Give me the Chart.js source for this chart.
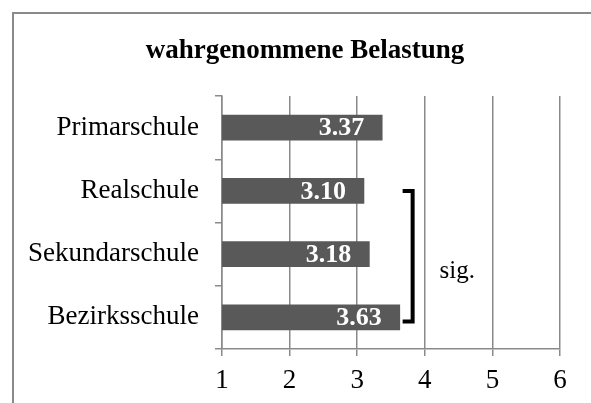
<!DOCTYPE html>
<html>
<head>
<meta charset="utf-8">
<script src="https://cdn.jsdelivr.net/npm/chart.js"></script>
<style>
  html, body { margin: 0; padding: 0; background: #fff; overflow: hidden; }
  #wrap { width: 591px; height: 403px; position: relative; }
</style>
</head>
<body>
<div id="wrap"><canvas id="chart" width="591" height="403"></canvas></div>
<script>
// chart data
const schools = ['Primarschule', 'Realschule', 'Sekundarschule', 'Bezirksschule'];
const belastung = [3.37, 3.10, 3.18, 3.63];
const xTicks = [1, 2, 3, 4, 5, 6];
const chartTitle = 'wahrgenommene Belastung';

// significance bracket between Realschule and Bezirksschule
const sigFrom = 'Realschule';
const sigTo = 'Bezirksschule';
const sigX = 3.82;
const sigLabel = 'sig.';
const sigLabelPos = [4.48, 2.28];

const FONT = "'Liberation Serif', 'Times New Roman', serif";
const GRID = '#8a8a8a';

// outer frame (top and left edge of the chart box) and the title,
// which sits centred on the whole (wider, cropped) chart box
const framePlugin = {
    id: 'frame',
    beforeDraw(chart) {
        const ctx = chart.ctx;
        ctx.save();
        ctx.strokeStyle = '#8a8a8a';
        ctx.lineWidth = 2;
        ctx.beginPath();
        ctx.moveTo(13, chart.height);
        ctx.lineTo(13, 13);
        ctx.lineTo(chart.width, 13);
        ctx.stroke();

        ctx.fillStyle = '#000';
        ctx.font = 'bold 27px ' + FONT;
        ctx.textAlign = 'center';
        ctx.textBaseline = 'alphabetic';
        ctx.fillText(chartTitle, 305, 58);
        ctx.restore();
    }
};

// white value labels at the inside end of each bar
const valueLabels = {
    id: 'valueLabels',
    afterDatasetsDraw(chart) {
        const ctx = chart.ctx;
        const meta = chart.getDatasetMeta(0);
        ctx.save();
        ctx.fillStyle = '#ffffff';
        ctx.font = 'bold 26px ' + FONT;
        ctx.textAlign = 'right';
        ctx.textBaseline = 'middle';
        meta.data.forEach((bar, i) => {
            ctx.fillText(belastung[i].toFixed(2), bar.x - 18, bar.y + 1);
        });
        ctx.restore();
    }
};

// bracket + "sig." text
const sigBracket = {
    id: 'sigBracket',
    afterDraw(chart) {
        const ctx = chart.ctx;
        const xs = chart.scales.x, ys = chart.scales.y;
        const x = xs.getPixelForValue(sigX);
        const y1 = ys.getPixelForValue(schools.indexOf(sigFrom));
        const y2 = ys.getPixelForValue(schools.indexOf(sigTo)) + 4;
        ctx.save();
        ctx.strokeStyle = '#000';
        ctx.lineWidth = 4;
        ctx.lineJoin = 'miter';
        ctx.beginPath();
        ctx.moveTo(x - 10, y1);
        ctx.lineTo(x, y1);
        ctx.lineTo(x, y2);
        ctx.lineTo(x - 10, y2);
        ctx.stroke();
        ctx.fillStyle = '#000';
        ctx.font = '25px ' + FONT;
        ctx.textAlign = 'center';
        ctx.textBaseline = 'middle';
        ctx.fillText(sigLabel, xs.getPixelForValue(sigLabelPos[0]), ys.getPixelForValue(sigLabelPos[1]));
        ctx.restore();
    }
};

new Chart(document.getElementById('chart'), {
    type: 'bar',
    data: {
        labels: schools,
        datasets: [{
            data: belastung,
            backgroundColor: '#595959',
            borderWidth: 0,
            barThickness: 25
        }]
    },
    options: {
        indexAxis: 'y',
        responsive: false,
        animation: false,
        layout: { padding: { left: 0, right: 31, top: 96, bottom: 0 } },
        scales: {
            x: {
                min: 1,
                max: 6,
                afterFit(scale) { scale.height = 54; },
                afterBuildTicks(scale) { scale.ticks = xTicks.map(v => ({ value: v })); },
                ticks: {
                    color: '#000',
                    font: { family: FONT, size: 27 },
                    padding: 9
                },
                grid: { color: GRID, lineWidth: 1.5, tickLength: 7 },
                border: { color: GRID, width: 1.5 }
            },
            y: {
                afterFit(scale) { scale.width = 222; },
                ticks: {
                    color: '#000',
                    font: { family: FONT, size: 27 },
                    padding: 16
                },
                grid: { drawOnChartArea: false, offset: true, color: GRID, lineWidth: 1.5, tickLength: 7 },
                border: { color: GRID, width: 1.5 }
            }
        },
        plugins: {
            legend: { display: false },
            tooltip: { enabled: false },
            title: { display: false }
        }
    },
    plugins: [framePlugin, valueLabels, sigBracket]
});
</script>
</body>
</html>
